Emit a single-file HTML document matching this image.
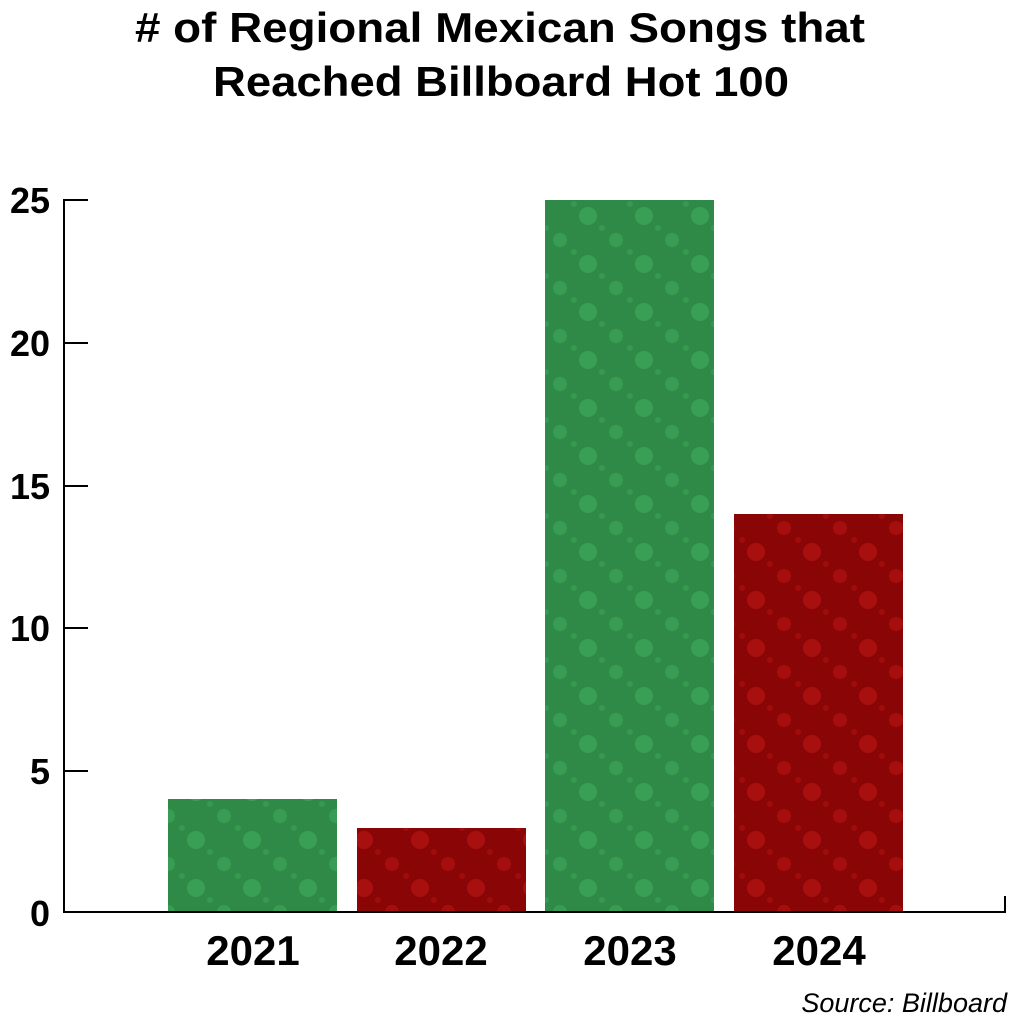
<!DOCTYPE html>
<html><head><meta charset="utf-8"><style>
body{margin:0;background:#fff;width:1011px;height:1024px;overflow:hidden}
svg{display:block}
</style></head><body>
<svg width="1011" height="1024" xmlns="http://www.w3.org/2000/svg">
<defs>
<pattern id="g" width="56" height="48" patternUnits="userSpaceOnUse">
<rect width="56" height="48" fill="#2f8a47"/>
<circle cx="28" cy="24" r="9" fill="#3ea85c" opacity="0.7"/>
<circle cx="0" cy="0" r="7" fill="#3ea85c" opacity="0.6"/>
<circle cx="56" cy="0" r="7" fill="#3ea85c" opacity="0.6"/>
<circle cx="0" cy="48" r="7" fill="#3ea85c" opacity="0.6"/>
<circle cx="56" cy="48" r="7" fill="#3ea85c" opacity="0.6"/>
<circle cx="14" cy="12" r="3" fill="#3ea85c" opacity="0.5"/>
<circle cx="42" cy="36" r="3" fill="#3ea85c" opacity="0.5"/>
</pattern>
<pattern id="r" width="56" height="48" patternUnits="userSpaceOnUse">
<rect width="56" height="48" fill="#8a0505"/>
<circle cx="28" cy="24" r="9" fill="#b51414" opacity="0.7"/>
<circle cx="0" cy="0" r="7" fill="#b51414" opacity="0.6"/>
<circle cx="56" cy="0" r="7" fill="#b51414" opacity="0.6"/>
<circle cx="0" cy="48" r="7" fill="#b51414" opacity="0.6"/>
<circle cx="56" cy="48" r="7" fill="#b51414" opacity="0.6"/>
<circle cx="14" cy="12" r="3" fill="#b51414" opacity="0.5"/>
<circle cx="42" cy="36" r="3" fill="#b51414" opacity="0.5"/>
</pattern>
</defs>
<g font-family="Liberation Sans, sans-serif" font-weight="bold" fill="#000">
<text x="135" y="42" font-size="42" textLength="730" lengthAdjust="spacingAndGlyphs"># of Regional Mexican Songs that</text>
<text x="213" y="96" font-size="42" textLength="576" lengthAdjust="spacingAndGlyphs">Reached Billboard Hot 100</text>
<g font-size="36" text-anchor="end">
<text x="50" y="213">25</text>
<text x="50" y="356">20</text>
<text x="50" y="499">15</text>
<text x="50" y="641">10</text>
<text x="50" y="784">5</text>
<text x="50" y="926">0</text>
</g>
<g font-size="42" text-anchor="middle">
<text x="253" y="965">2021</text>
<text x="441" y="965">2022</text>
<text x="630" y="965">2023</text>
<text x="819" y="965">2024</text>
</g>
</g>
<rect x="168" y="799" width="169" height="113" fill="url(#g)"/>
<rect x="357" y="828" width="169" height="84" fill="url(#r)"/>
<rect x="545" y="200" width="169" height="712" fill="url(#g)"/>
<rect x="734" y="514" width="169" height="398" fill="url(#r)"/>
<g stroke="#000" stroke-width="2" fill="none">
<path d="M88 200 H64 V912 H1005 V896"/>
<path d="M64 343 H88 M64 486 H88 M64 628 H88 M64 771 H88"/>
</g>
<text x="1007" y="1012" font-family="Liberation Sans, sans-serif" font-style="italic" font-size="27" text-anchor="end">Source: Billboard</text>
</svg>
</body></html>
